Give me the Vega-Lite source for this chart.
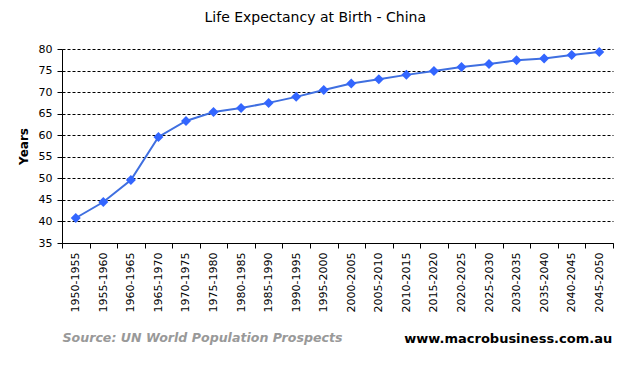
{
  "$schema": "https://vega.github.io/schema/vega-lite/v6.json",
  "autosize": "none",
  "width": 551,
  "height": 194,
  "padding": {"left": 62, "top": 49, "right": 31, "bottom": 123},
  "background": "white",
  "config": {"view": {"stroke": null}, "font": "DejaVu Sans"},
  "title": {
    "text": "Life Expectancy at Birth - China",
    "font": "DejaVu Sans",
    "fontSize": 14,
    "fontWeight": "normal",
    "color": "black",
    "anchor": "middle",
    "frame": "bounds",
    "offset": 18
  },
  "data": {
    "values": [
      {"period": "1950-1955", "years": 40.8},
      {"period": "1955-1960", "years": 44.5},
      {"period": "1960-1965", "years": 49.6},
      {"period": "1965-1970", "years": 59.6},
      {"period": "1970-1975", "years": 63.3},
      {"period": "1975-1980", "years": 65.4},
      {"period": "1980-1985", "years": 66.3},
      {"period": "1985-1990", "years": 67.5},
      {"period": "1990-1995", "years": 68.9},
      {"period": "1995-2000", "years": 70.5},
      {"period": "2000-2005", "years": 72.0},
      {"period": "2005-2010", "years": 73.0},
      {"period": "2010-2015", "years": 74.0},
      {"period": "2015-2020", "years": 74.9},
      {"period": "2020-2025", "years": 75.8},
      {"period": "2025-2030", "years": 76.5},
      {"period": "2030-2035", "years": 77.4},
      {"period": "2035-2040", "years": 77.8},
      {"period": "2040-2045", "years": 78.6},
      {"period": "2045-2050", "years": 79.3}
    ]
  },
  "layer": [
    {
      "mark": {"type": "line", "color": "#3F6FE0", "strokeWidth": 2,
        "point": {"shape": "diamond", "size": 100, "filled": true, "color": "#3366FF", "opacity": 1}},
      "encoding": {
        "x": {
          "field": "period", "type": "ordinal", "sort": null,
          "scale": {"paddingInner": 0, "paddingOuter": 0},
          "axis": {
            "title": "Source: UN World Population Prospects",
            "titleAnchor": "start",
            "titleAlign": "left",
            "titleColor": "#999999",
            "titleFont": "DejaVu Sans",
            "titleFontStyle": "italic",
            "titleFontWeight": "bold",
            "titleFontSize": 12.6,
            "titlePadding": 20,
            "labelAngle": -90,
            "labelFont": "DejaVu Sans",
            "labelFontSize": 11,
            "labelColor": "black",
            "labelPadding": 4,
            "tickBand": "extent",
            "tickColor": "black",
            "tickSize": 5,
            "domainColor": "black",
            "grid": false
          }
        },
        "y": {
          "field": "years", "type": "quantitative",
          "scale": {"domain": [35, 80], "nice": false, "zero": false},
          "axis": {
            "title": "Years",
            "titleFont": "DejaVu Sans",
            "titleFontSize": 12,
            "titleFontWeight": "bold",
            "titleColor": "black",
            "titlePadding": 8,
            "values": [35, 40, 45, 50, 55, 60, 65, 70, 75, 80],
            "tickCount": 20,
            "labelOverlap": false,
            "labelFlush": false,
            "labelFont": "DejaVu Sans",
            "labelFontSize": 11,
            "labelColor": "black",
            "labelPadding": 5,
            "tickColor": "black",
            "tickSize": 5,
            "domainColor": "black",
            "grid": true,
            "gridColor": "black",
            "gridDash": [3, 2],
            "gridOpacity": 1
          }
        }
      }
    },
    {
      "data": {"values": [{"site": "www.macrobusiness.com.au"}]},
      "mark": {"type": "text", "align": "right", "baseline": "middle", "font": "DejaVu Sans", "fontSize": 13, "fontWeight": "bold", "color": "black", "dx": 13, "dy": 96},
      "encoding": {
        "x": {"datum": "2045-2050"},
        "y": {"datum": 35},
        "text": {"field": "site"}
      }
    }
  ]
}
